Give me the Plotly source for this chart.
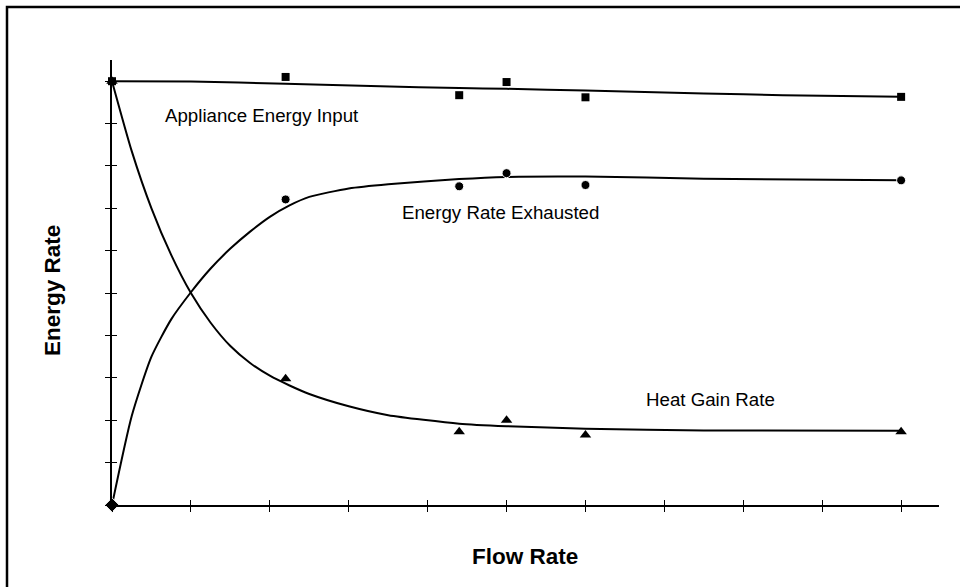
import plotly.graph_objects as go

# ---- data ----
flow_points = [0, 2.2, 4.4, 5.0, 6.0, 10.0]
appliance_pts = [10.0, 10.1, 9.67, 9.98, 9.62, 9.63]
exhausted_pts = [0.0, 7.21, 7.52, 7.83, 7.55, 7.66]
heatgain_pts = [10.0, 2.98, 1.73, 2.0, 1.65, 1.73]

appliance_fit_x = [0, 1.0, 2.2, 3.4, 4.4, 5.0, 6.0, 7.5, 8.5, 10.0]
appliance_fit_y = [10.0, 9.99, 9.94, 9.88, 9.84, 9.82, 9.78, 9.71, 9.67, 9.63]

exhausted_fit_x = [0, 0.25, 0.5, 0.75, 1.0, 1.25, 1.5, 1.75, 2.0, 2.25, 2.5, 3.0, 3.5, 4.4, 5.0, 6.0, 7.5, 10.0]
exhausted_fit_y = [0.0, 2.1, 3.5, 4.38, 5.02, 5.58, 6.05, 6.45, 6.8, 7.07, 7.27, 7.47, 7.57, 7.69, 7.74, 7.75, 7.7, 7.66]

heat_fit_x = [0, 0.25, 0.5, 0.75, 1.0, 1.25, 1.5, 1.75, 2.0, 2.25, 2.5, 3.0, 3.5, 4.4, 5.0, 6.0, 7.5, 10.0]
heat_fit_y = [10.0, 8.35, 7.0, 5.9, 5.0, 4.3, 3.75, 3.35, 3.05, 2.82, 2.62, 2.33, 2.12, 1.92, 1.86, 1.8, 1.76, 1.75]

tick_vals = list(range(0, 11))

labels = [
    ("Appliance Energy Input", 1.90, 9.2),
    ("Energy Rate Exhausted", 4.92, 6.91),
    ("Heat Gain Rate", 7.59, 2.48),
]

x_title = "Flow Rate"
y_title = "Energy Rate"

FONT = "Liberation Sans, Arial, sans-serif"

fig = go.Figure()

line_style = dict(color="black", width=2, shape="spline", smoothing=0.6)
for fx, fy in [(appliance_fit_x, appliance_fit_y),
               (exhausted_fit_x, exhausted_fit_y),
               (heat_fit_x, heat_fit_y)]:
    fig.add_trace(go.Scatter(x=fx, y=fy, mode="lines", line=line_style,
                             hoverinfo="skip", showlegend=False))

fig.add_trace(go.Scatter(x=flow_points, y=appliance_pts, mode="markers", cliponaxis=False,
                         marker=dict(symbol="square", size=8, color="black", opacity=1),
                         showlegend=False, name="Appliance Energy Input"))
fig.add_trace(go.Scatter(x=flow_points, y=exhausted_pts, mode="markers", cliponaxis=False,
                         marker=dict(symbol=["diamond"] + ["circle"] * 5, size=[11] + [9] * 5,
                                     color="black", opacity=1),
                         showlegend=False, name="Energy Rate Exhausted"))
fig.add_trace(go.Scatter(x=flow_points, y=heatgain_pts, mode="markers", cliponaxis=False,
                         marker=dict(symbol="triangle-up", size=10, color="black", opacity=1),
                         showlegend=False, name="Heat Gain Rate"))

# dummy trace for overlay axes (inside ticks -> crossing ticks)
fig.add_trace(go.Scatter(x=[None], y=[None], xaxis="x2", yaxis="y2", showlegend=False, hoverinfo="skip"))

axis_common = dict(showgrid=False, zeroline=False, showticklabels=False,
                   tickvals=tick_vals, ticklen=5, tickwidth=1.3, tickcolor="black")

fig.update_layout(
    width=960, height=587,
    margin=dict(l=112, r=21, t=60, b=82),
    paper_bgcolor="white", plot_bgcolor="white",
    font=dict(family=FONT, color="black"),
    xaxis=dict(range=[0, 10.48], showline=True, linecolor="black", linewidth=1.6,
               ticks="outside", **axis_common),
    yaxis=dict(range=[0, 10.5], showline=True, linecolor="black", linewidth=1.6,
               ticks="outside", **axis_common),
    xaxis2=dict(range=[0, 10.48], overlaying="x", anchor="y2", showline=False,
                ticks="inside", **axis_common),
    yaxis2=dict(range=[0, 10.5], overlaying="y", anchor="x2", showline=False,
                ticks="inside", **axis_common),
)

# outer frame
fig.add_shape(type="rect", xref="paper", yref="paper",
              x0=(7 - 112) / 827, x1=(990 - 112) / 827,
              y0=(505 - 620) / 445, y1=(505 - 7) / 445,
              line=dict(color="black", width=2.5), fillcolor="rgba(0,0,0,0)", layer="below")

for text, lx, ly in labels:
    fig.add_annotation(x=lx, y=ly, xref="x", yref="y", text=text, showarrow=False,
                       font=dict(family=FONT, size=18.7, color="black"),
                       xanchor="center", yanchor="middle")

fig.add_annotation(x=(525 - 112) / 827, y=(505 - 556) / 445, xref="paper", yref="paper",
                   text="<b>" + x_title + "</b>", showarrow=False,
                   font=dict(family=FONT, size=22.5, color="black"),
                   xanchor="center", yanchor="middle")
fig.add_annotation(x=(52 - 112) / 827, y=(505 - 290) / 445, xref="paper", yref="paper",
                   text="<b>" + y_title + "</b>", showarrow=False, textangle=-90,
                   font=dict(family=FONT, size=22.5, color="black"),
                   xanchor="center", yanchor="middle")

fig.write_html("out.html", config={"displayModeBar": False},
               post_script="document.body.style.margin='0px';")
